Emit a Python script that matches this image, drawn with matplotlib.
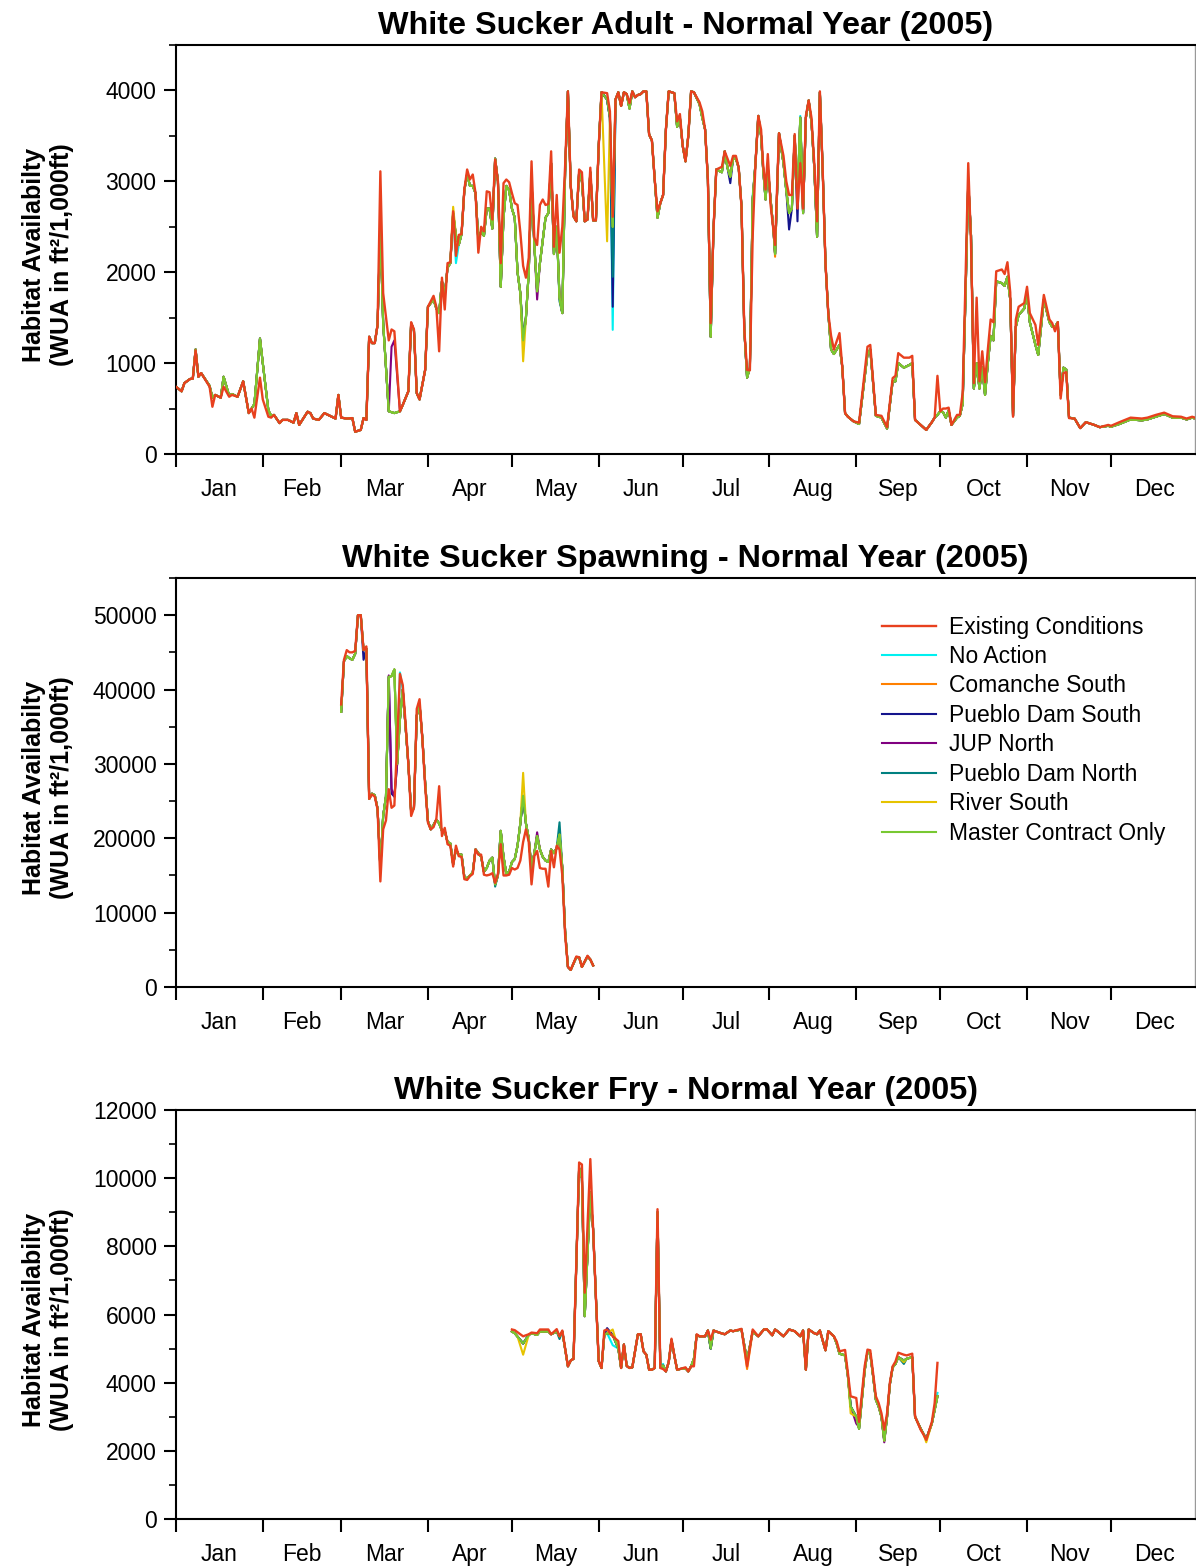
import numpy as np
import matplotlib.pyplot as plt
from matplotlib.ticker import MultipleLocator

plt.rcParams['font.family'] = ['Liberation Sans', 'DejaVu Sans']

W, H = 1196, 1566

months = ['Jan', 'Feb', 'Mar', 'Apr', 'May', 'Jun',
          'Jul', 'Aug', 'Sep', 'Oct', 'Nov', 'Dec']
month_start = [0, 31, 59, 90, 120, 151, 181, 212, 243, 273, 304, 334]
month_mid = [15.5, 45, 74.5, 105, 135.5, 166, 196.5, 227.5, 258, 288.5, 319, 349.5]

scenarios = ['Existing Conditions', 'No Action', 'Comanche South', 'Pueblo Dam South',
             'JUP North', 'Pueblo Dam North', 'River South', 'Master Contract Only']
colors = ['#E8401E', '#00F0F0', '#FF8000', '#14148C',
          '#800080', '#008080', '#E6C300', '#78C832']

# ---- White Sucker Adult (day of year, WUA) ----
adult_day = [0, 2, 3, 5, 6, 7, 8, 9, 12, 13,
             14, 16, 17, 19, 20, 22, 24, 26, 27, 28,
             30, 31, 33, 34, 35, 37, 38, 40, 42, 43,
             44, 47, 48, 49, 51, 53, 55, 57, 58, 59,
             61, 63, 64, 66, 67, 68, 69, 70, 71, 72,
             73, 74, 76, 77, 78, 80, 81, 83, 84, 85,
             86, 87, 89, 90, 92, 93, 94, 95, 96, 97,
             98, 99, 100, 101, 102, 103, 104, 105, 106, 107,
             108, 109, 110, 111, 112, 113, 114, 115, 116, 117,
             118, 119, 120, 121, 122, 123, 124, 125, 126, 127,
             128, 129, 130, 131, 132, 133, 134, 135, 136, 137,
             138, 139, 140, 141, 142, 143, 144, 145, 146, 147,
             148, 149, 150, 151, 152, 154, 155, 156, 157, 158,
             159, 160, 161, 162, 163, 164, 165, 166, 167, 168,
             169, 170, 171, 172, 173, 174, 175, 176, 178, 179,
             180, 181, 182, 183, 184, 185, 187, 188, 189, 190,
             191, 192, 193, 195, 196, 197, 198, 199, 200, 201,
             202, 203, 204, 205, 206, 207, 208, 209, 209.7, 210.6,
             211.4, 212.4, 213.4, 214, 215.4, 217, 218, 219, 220, 221,
             222, 223, 224, 225, 226, 227, 228, 229, 230, 231,
             232, 233, 234, 235, 237, 238, 239, 240, 242, 244,
             247, 248, 250, 252, 254, 256, 257, 258, 260, 262,
             263, 264, 266, 268, 270, 271, 272, 273, 274, 275,
             276, 277, 279, 280, 281, 282, 283, 284, 285, 286,
             287, 288, 289, 290, 291, 292, 293, 295, 296, 297,
             298, 299, 300, 301, 303, 304, 305, 307, 308, 310,
             312, 313, 314, 315, 316, 317, 318, 319, 321, 323,
             325, 328, 330, 333, 334, 337, 341, 345, 347, 350,
             353, 356, 359, 361, 363, 364]
adult_existing = [740, 690, 780, 825, 830, 1140, 850, 890, 740, 520,
                  650, 620, 740, 630, 650, 630, 800, 450, 500, 400,
                  840, 600, 410, 400, 430, 340, 375, 375, 345, 450,
                  320, 465, 450, 390, 375, 450, 420, 390, 650, 400,
                  390, 395, 245, 265, 395, 375, 1290, 1220, 1220, 1420,
                  3110, 1770, 1250, 1370, 1350, 470, 540, 690, 1450, 1370,
                  670, 600, 925, 1620, 1740, 1620, 1130, 1940, 1590, 2100,
                  2110, 2670, 2180, 2410, 2420, 2910, 3130, 3020, 3075, 2870,
                  2215, 2500, 2450, 2890, 2880, 2580, 3240, 3000, 2100, 2980,
                  3020, 2990, 2870, 2760, 2740, 2440, 2070, 1940, 2160, 3220,
                  2380, 2300, 2740, 2800, 2740, 2750, 3330, 2280, 2850, 2215,
                  2500, 3170, 3990, 2950, 2615, 2560, 3130, 3100, 2560, 2580,
                  3150, 2570, 2570, 3390, 3980, 3970, 3770, 2610, 3900, 3980,
                  3830, 3980, 3960, 3860, 3990, 3925, 3950, 3960, 3990, 3990,
                  3515, 3450, 3020, 2670, 2760, 2850, 3570, 3990, 3970, 3660,
                  3740, 3390, 3220, 3500, 3990, 3980, 3870, 3770, 3570, 3020,
                  1440, 2470, 3130, 3160, 3330, 3250, 3170, 3280, 3280, 3150,
                  2725, 1370, 925, 920, 2400, 3200, 3720, 3570, 3200, 2910,
                  3300, 2740, 2470, 2300, 3530, 3280, 3000, 2850, 2850, 3520,
                  2700, 3200, 2700, 3720, 3890, 3700, 3200, 2560, 3990, 3130,
                  2100, 1550, 1300, 1150, 1330, 960, 450, 410, 360, 345,
                  1180, 1200, 430, 420, 295, 835, 860, 1110, 1060, 1060,
                  1080, 375, 320, 265, 350, 400, 860, 470, 500, 500,
                  510, 320, 430, 430, 670, 1880, 3200, 2300, 780, 1720,
                  800, 1130, 790, 1150, 1480, 1450, 2010, 2030, 1980, 2110,
                  1780, 410, 1480, 1620, 1660, 1840, 1550, 1420, 1200, 1750,
                  1480, 1440, 1350, 1450, 610, 890, 900, 395, 390, 285,
                  350, 320, 295, 320, 310, 350, 400, 390, 400, 430,
                  455, 415, 410, 390, 410, 400]
adult_master = [740, 690, 780, 825, 830, 1150, 850, 890, 750, 620,
                650, 620, 850, 640, 660, 630, 800, 450, 500, 550,
                1270, 1000, 480, 420, 430, 340, 375, 375, 345, 450,
                320, 465, 450, 390, 375, 450, 420, 390, 650, 400,
                390, 395, 245, 265, 395, 375, 1290, 1220, 1220, 1420,
                2500, 1440, 470, 460, 450, 470, 540, 690, 1440, 1360,
                670, 600, 925, 1620, 1700, 1600, 1550, 1900, 1750, 2050,
                2100, 2650, 2400, 2300, 2420, 2900, 3080, 2950, 2950, 2870,
                2350, 2450, 2400, 2700, 2700, 2480, 3250, 3000, 1840, 2600,
                2950, 2900, 2700, 2600, 2000, 1770, 1250, 1500, 2000, 3000,
                2300, 1790, 2100, 2350, 2600, 2650, 3200, 2200, 2500, 1720,
                1550, 3100, 3990, 2950, 2615, 2560, 3100, 3000, 2560, 2580,
                3100, 2570, 2570, 3390, 3980, 3900, 3700, 2500, 3900, 3980,
                3830, 3980, 3960, 3800, 3990, 3925, 3950, 3960, 3990, 3990,
                3515, 3450, 3020, 2600, 2760, 2850, 3570, 3990, 3970, 3600,
                3700, 3390, 3220, 3500, 3990, 3980, 3850, 3700, 3570, 3020,
                1290, 2470, 3130, 3100, 3330, 3150, 3050, 3250, 3250, 3150,
                2725, 1370, 840, 950, 2800, 3200, 3720, 3500, 3150, 2800,
                3150, 2800, 2470, 2200, 3530, 3200, 2900, 2650, 2700, 3500,
                2800, 3700, 2650, 3700, 3890, 3650, 3150, 2390, 3980, 3130,
                2100, 1550, 1150, 1100, 1200, 960, 450, 410, 360, 330,
                1100, 1150, 420, 400, 280, 800, 800, 1000, 950, 980,
                1000, 375, 320, 265, 350, 400, 430, 470, 460, 400,
                480, 320, 400, 420, 550, 1700, 3000, 2400, 720, 1000,
                720, 950, 650, 1000, 1300, 1250, 1900, 1880, 1850, 1950,
                1700, 420, 1400, 1530, 1600, 1750, 1450, 1200, 1090, 1700,
                1450, 1400, 1400, 1450, 650, 950, 930, 400, 390, 285,
                350, 320, 295, 310, 300, 330, 380, 370, 380, 410,
                440, 400, 400, 380, 400, 390]
adult_changes = {
    'No Action': {100: 2100, 156: 1366, 206: 2840, 223: 3720},
    'Comanche South': {214: 2170},
    'Pueblo Dam South': {156: 1620, 198: 2980, 219: 2470, 222: 2560},
    'JUP North': {77: 1180, 78: 1250, 129: 1700},
    'Pueblo Dam North': {137: 1680, 138: 1550, 156: 1950},
    'River South': {99: 2720, 124: 1020, 154: 2340},
}

# ---- White Sucker Spawning ----
spawn_day = [59, 60, 61, 62, 63, 64, 65, 66, 67, 68,
             69, 70, 71, 72, 73, 74, 75, 76, 77, 78,
             79, 80, 81, 82, 83, 84, 85, 86, 87, 88,
             89, 90, 91, 92, 93, 94, 95, 96, 97, 98,
             99, 100, 101, 102, 103, 104, 105, 106, 107, 108,
             109, 110, 111, 112, 113, 114, 115, 116, 117, 118,
             119, 120, 121, 122, 123, 124, 125, 126, 127, 128,
             129, 130, 131, 132, 133, 134, 135, 136, 137, 138,
             139, 140, 141, 143, 144, 145, 147, 148, 149]
spawn_existing = [38000, 44000, 45300, 45000, 45000, 45200, 50000, 50000, 45300, 45800,
                  25300, 25900, 25600, 23900, 14200, 21200, 22400, 26600, 24100, 24400,
                  33000, 42100, 40600, 35500, 30000, 23000, 24100, 37400, 38700, 33400,
                  27000, 22100, 21200, 21500, 22600, 27000, 20300, 21400, 19200, 19000,
                  16200, 19000, 17600, 17500, 14500, 14400, 14900, 15200, 18500, 17800,
                  17800, 15100, 15000, 15100, 15300, 14000, 15200, 19200, 15000, 15000,
                  15100, 16000, 15800, 16000, 17000, 19500, 21200, 19500, 13800, 17600,
                  18300, 16000, 15900, 15900, 13500, 18300, 16100, 19000, 18500, 15000,
                  7000, 2700, 2300, 4100, 4000, 2700, 4200, 3700, 2900]
spawn_master = [37000, 43800, 44500, 44200, 44000, 44800, 50000, 50000, 45300, 45500,
                25300, 26000, 25800, 24000, 16000, 23000, 25600, 41700, 41800, 42700,
                30000, 36000, 40000, 35000, 30000, 23500, 24100, 36500, 38000, 33500,
                27500, 22300, 21200, 21800, 22500, 22000, 21000, 21000, 19500, 19300,
                16500, 18500, 17800, 17800, 14800, 14600, 15000, 15400, 18500, 18000,
                17500, 15500, 16000, 17000, 17400, 13800, 15000, 21000, 17500, 15200,
                15500, 16800, 17200, 19000, 22000, 25700, 22000, 20000, 15800, 18000,
                20300, 18500, 17500, 17000, 16800, 18500, 18000, 18700, 20500, 16000,
                7500, 2700, 2300, 4000, 4000, 2700, 4100, 3700, 2900]
spawn_changes = {
    'No Action': {80: 42300},
    'Pueblo Dam South': {67: 44000, 77: 26000, 78: 25600},
    'JUP North': {76: 41900, 77: 26600, 78: 25600, 129: 20800},
    'Pueblo Dam North': {59: 37000, 114: 13500, 137: 22150},
    'River South': {124: 28800},
}

# ---- White Sucker Fry ----
fry_day = [120, 121, 122, 124, 126, 127, 129, 130, 133, 134,
           136, 137, 138, 140, 141, 142, 143, 144, 145, 146,
           148, 149, 150, 151, 152, 153, 154, 156, 158, 159,
           160, 161, 162, 163, 165, 166, 167, 168, 169, 170,
           171, 172, 173, 174, 175, 176, 177, 178, 179, 180,
           182, 183, 184, 185, 186, 187, 189, 190, 191, 192,
           194, 196, 198, 199, 202, 204, 206, 208, 210, 211,
           213, 214, 215, 217, 219, 221, 223, 224, 225, 226,
           228, 229, 230, 232, 233, 235, 236, 237, 239, 240,
           241, 243, 244, 246, 247, 248, 249, 250, 251, 252,
           253, 254, 255, 256, 257, 258, 260, 261, 263, 264,
           266, 267, 268, 270, 271, 272]
fry_existing = [5560, 5540, 5480, 5360, 5420, 5470, 5450, 5560, 5560, 5420,
                5570, 5360, 5530, 4480, 4650, 4700, 7500, 10460, 10400, 6640,
                10560, 8500, 6500, 4630, 4430, 5530, 5560, 5360, 5220, 4430,
                5120, 4490, 4430, 4450, 5420, 5420, 4920, 4820, 4380, 4380,
                4430, 9090, 4430, 4400, 4330, 4600, 5290, 4800, 4380, 4400,
                4450, 4330, 4480, 4480, 5420, 5360, 5360, 5530, 5260, 5530,
                5470, 5420, 5530, 5510, 5580, 4480, 5560, 5360, 5560, 5570,
                5390, 5560, 5500, 5360, 5560, 5510, 5360, 5530, 4380, 5560,
                5450, 5420, 5530, 4950, 5510, 5360, 5210, 4920, 4960, 4290,
                3600, 3550, 2850, 4480, 4970, 4950, 4290, 3600, 3400, 3100,
                2620, 3100, 4000, 4480, 4620, 4880, 4820, 4800, 4850, 3010,
                2620, 2480, 2320, 2850, 3400, 4580]
fry_master = [5500, 5450, 5350, 5150, 5400, 5450, 5400, 5500, 5500, 5420,
              5500, 5360, 5500, 4480, 4650, 4700, 7500, 10300, 10000, 5950,
              9580, 8500, 6500, 4630, 4430, 5400, 5450, 5400, 5000, 4430,
              5120, 4490, 4430, 4450, 5420, 5420, 4920, 4820, 4380, 4380,
              4430, 9000, 4450, 4500, 4330, 4600, 5250, 4800, 4380, 4400,
              4420, 4330, 4480, 4700, 5400, 5360, 5360, 5530, 5000, 5530,
              5470, 5420, 5530, 5510, 5560, 4650, 5500, 5360, 5560, 5570,
              5390, 5560, 5500, 5360, 5560, 5510, 5360, 5530, 4380, 5560,
              5450, 5420, 5530, 4950, 5510, 5360, 5150, 4850, 4800, 4200,
              3300, 3000, 2650, 4350, 4900, 4850, 4200, 3500, 3300, 3000,
              2300, 3000, 3950, 4450, 4550, 4750, 4650, 4700, 4750, 3000,
              2650, 2500, 2350, 2800, 3200, 3600]
fry_changes = {
    'No Action': {156: 5100, 174: 4550, 272: 3700},
    'Comanche South': {204: 4400},
    'Pueblo Dam South': {154: 5600},
    'JUP North': {243: 2800, 244: 2700, 253: 2250},
    'Pueblo Dam North': {137: 5280, 260: 4550},
    'River South': {124: 4820, 156: 5560, 191: 5100, 241: 3100, 260: 4600, 268: 2250},
}

panels = [
    ('White Sucker Adult - Normal Year (2005)', adult_day, adult_existing, adult_master,
     adult_changes, 4500, 1000, 500, 45),
    ('White Sucker Spawning - Normal Year (2005)', spawn_day, spawn_existing, spawn_master,
     spawn_changes, 55000, 10000, 5000, 578),
    ('White Sucker Fry - Normal Year (2005)', fry_day, fry_existing, fry_master,
     fry_changes, 12000, 2000, 1000, 1110),
]

fig = plt.figure(figsize=(W / 100, H / 100), dpi=100)

for i, (title, day, existing, master, changes, ymax, major, minor, top) in enumerate(panels):
    ax = fig.add_axes([176 / W, 1 - (top + 409) / H, 1019 / W, 409 / H])
    lines = {}
    for name, col in zip(scenarios[1:], colors[1:]):
        vals = list(master)
        for d, v in changes.get(name, {}).items():
            vals[day.index(d)] = v
        lines[name], = ax.plot(day, vals, color=col, lw=1.5, zorder=2)
    lines[scenarios[0]], = ax.plot(day, existing, color=colors[0], lw=1.7, zorder=3)

    ax.set_xlim(0, 364)
    ax.set_ylim(0, ymax)
    ax.set_title(title, fontsize=23.3, fontweight='bold', pad=8)

    ax.set_xticks(month_start)
    ax.set_xticklabels([])
    ax.set_xticks(month_mid, minor=True)
    ax.set_xticklabels(months, minor=True, fontsize=16.5)
    ax.tick_params(axis='x', which='major', direction='out', length=9, width=1.5)
    ax.tick_params(axis='x', which='minor', length=0, pad=17)

    ax.yaxis.set_major_locator(MultipleLocator(major))
    ax.yaxis.set_minor_locator(MultipleLocator(minor))
    ax.tick_params(axis='y', which='major', direction='out', length=9, width=1.5,
                   labelsize=16.5, pad=5)
    ax.tick_params(axis='y', which='minor', direction='out', length=5, width=1.2)

    for s in ax.spines.values():
        s.set_linewidth(1.5)
    ax.spines['right'].set_color('#999999')
    ax.spines['right'].set_linewidth(1.0)

    ax.set_ylabel('Habitat Availabilty\n(WUA in ft\u00b2/1,000ft)', fontsize=18,
                  fontweight='bold', linespacing=1.2)
    ax.yaxis.set_label_coords(-0.1, 0.487)

    if i == 1:
        ax.legend([lines[n] for n in scenarios], scenarios, loc='upper left',
                  bbox_to_anchor=(0.693, 0.908), frameon=False, fontsize=16.5,
                  handlelength=2.35, handletextpad=0.57, labelspacing=0.28,
                  borderpad=0, borderaxespad=0)

fig.savefig('out.png', dpi=100)
